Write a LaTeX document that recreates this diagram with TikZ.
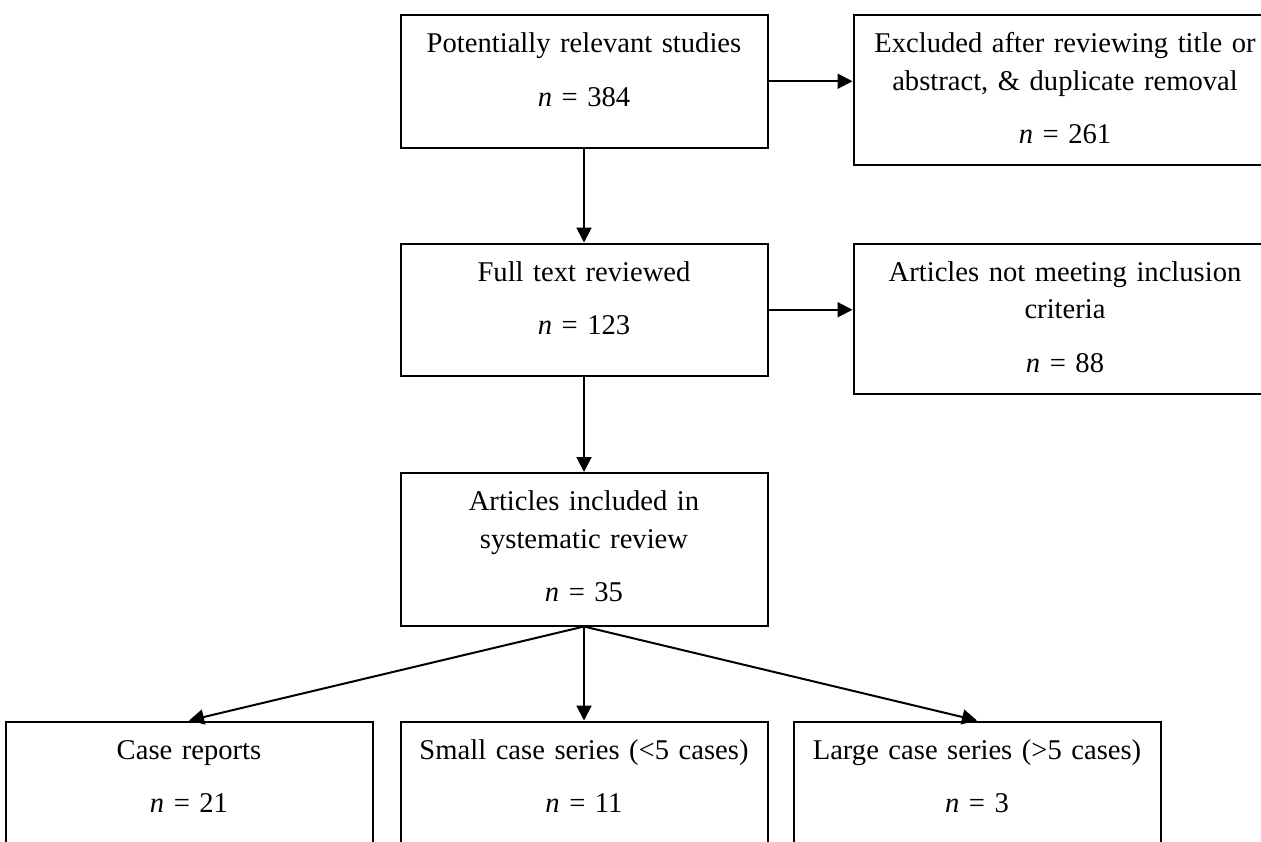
\documentclass[tikz,border=0pt]{standalone}
\usepackage{fontspec}
\setmainfont{Liberation Serif}
\usepackage{tikz}
\usetikzlibrary{arrows.meta,positioning}

\begin{document}
\begin{tikzpicture}[
    every node/.style={font=\fontsize{14.3pt}{18.75pt}\selectfont},
    flowbox/.style={draw, line width=1pt, inner sep=0pt, align=center,
        text width=183.5pt, text height=18.75pt, text depth=47.5pt},
    widebox/.style={flowbox, text width=211.5pt, text depth=56pt},
    flowarrow/.style={line width=1pt, -{Triangle[length=7.5pt, width=7.5pt]}},
    node distance=47pt and 42pt
]
\useasboundingbox (0,0) rectangle (630.5pt,-420.5pt);
\node[flowbox, anchor=north] (potential) at (292pt,-7pt) {Potentially relevant studies\\[8pt] \textit{n} = 384};
\node[widebox, right=42pt of potential.north east, anchor=north west] (excluded) {Excluded after reviewing title or\\ abstract, \& duplicate removal\\[8pt] \textit{n} = 261};
\node[flowbox, below=of potential] (fulltext) {Full text reviewed\\[8pt] \textit{n} = 123};
\node[widebox, right=42pt of fulltext.north east, anchor=north west, text depth=56.5pt] (notmeet) {Articles not meeting inclusion\\ criteria\\[8pt] \textit{n} = 88};
\node[flowbox, below=47.5pt of fulltext, text depth=57.5pt] (included) {Articles included in\\ systematic review\\[8pt] \textit{n} = 35};
\node[flowbox, below=of included] (small) {Small case series (<5 cases)\\[8pt] \textit{n} = 11};
\node[flowbox, left=13pt of small] (casereports) {Case reports\\[8pt] \textit{n} = 21};
\node[flowbox, right=12pt of small] (large) {Large case series (>5 cases)\\[8pt] \textit{n} = 3};

\draw[flowarrow] (potential) -- (fulltext);
\draw[flowarrow] (potential.east) -- (potential.east -| excluded.west);
\draw[flowarrow] (fulltext) -- (included);
\draw[flowarrow] (fulltext.east) -- (fulltext.east -| notmeet.west);
\draw[flowarrow] (included.south) -- (casereports.north);
\draw[flowarrow] (included.south) -- (small.north);
\draw[flowarrow] (included.south) -- (large.north);
\end{tikzpicture}
\end{document}
